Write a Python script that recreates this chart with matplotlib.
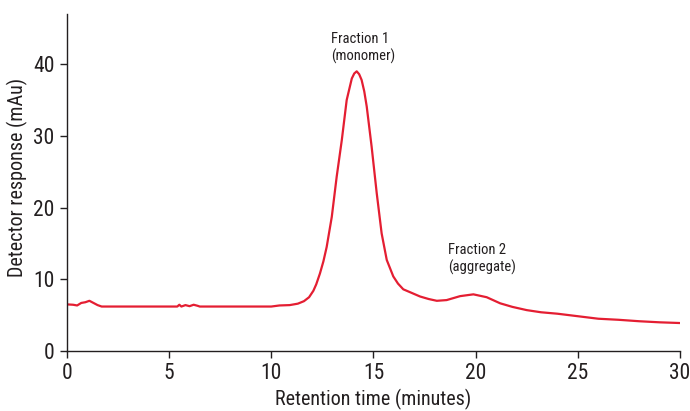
import matplotlib
matplotlib.use("Agg")
import matplotlib.pyplot as plt
from matplotlib import font_manager

names = {f.name for f in font_manager.fontManager.ttflist}
fam = [n for n in ["Roboto Condensed", "Liberation Sans Narrow", "Roboto", "DejaVu Sans"] if n in names]
plt.rcParams['font.family'] = fam

time_min = [0, 0.3, 0.5, 0.7, 0.9, 1.1, 1.3, 1.5, 1.7, 2.5, 4, 5.4, 5.5, 5.6, 5.8, 6.0, 6.2, 6.4, 6.5, 8, 10.0,
            10.4, 10.9, 11.3, 11.6, 11.85, 12.06, 12.2, 12.38, 12.55, 12.71, 12.96, 13.2, 13.45, 13.69, 13.94,
            14.06, 14.18, 14.3, 14.42, 14.55, 14.67, 14.91, 15.16, 15.4, 15.65, 15.97, 16.2, 16.46, 16.79,
            17.28, 17.7, 18.1, 18.58, 19.24, 19.89, 20.54, 21.2, 21.8, 22.5, 23.2, 24.0, 25.0, 26.0, 27.0,
            28.0, 29.0, 30.0]
response = [6.5, 6.45, 6.35, 6.7, 6.8, 7.0, 6.7, 6.4, 6.2, 6.2, 6.2, 6.2, 6.45, 6.2, 6.4, 6.25, 6.45, 6.3, 6.2, 6.2, 6.2,
            6.35, 6.4, 6.6, 6.95, 7.5, 8.4, 9.3, 10.8, 12.5, 14.5, 18.7, 24.3, 29.4, 35.0, 38.0,
            38.7, 39.0, 38.6, 37.8, 36.2, 34.1, 28.5, 22.0, 16.4, 12.7, 10.4, 9.4, 8.6, 8.2,
            7.6, 7.25, 7.0, 7.1, 7.65, 7.9, 7.5, 6.65, 6.15, 5.7, 5.4, 5.2, 4.85, 4.5, 4.35,
            4.15, 4.0, 3.9]

x_ticks = [0, 5, 10, 15, 20, 25, 30]
y_ticks = [0, 10, 20, 30, 40]
labels = [("Fraction 1\n(monomer)", 12.91, 44.5), ("Fraction 2\n(aggregate)", 18.66, 15.0)]

txt = '#231f20'
fig = plt.figure(figsize=(6.9, 4.11), dpi=100)
ax = fig.add_axes([0.097, 0.146, 0.8885, 0.82])
ax.plot(time_min, response, color='#e41e32', lw=1.6)
ax.set_xlim(0, 30)
ax.set_ylim(0, 47)
ax.set_xticks(x_ticks)
ax.set_yticks(y_ticks)
for s in ['top', 'right']:
    ax.spines[s].set_visible(False)
for s in ['left', 'bottom']:
    ax.spines[s].set_color(txt)
    ax.spines[s].set_linewidth(1.0)
ax.tick_params(direction='out', length=5, width=1, colors=txt, labelsize=15.5, pad=4)
ax.set_xlabel("Retention time (minutes)", fontsize=14.5, color=txt, labelpad=3)
ax.set_ylabel("Detector response (mAu)", fontsize=14.5, color=txt)
ax.yaxis.set_label_coords(-0.064, 0.516)
for s, x, y in labels:
    ax.text(x, y, s, fontsize=10.5, color=txt, va='top', ha='left', linespacing=1.2)
fig.savefig("out.png", dpi=100)
